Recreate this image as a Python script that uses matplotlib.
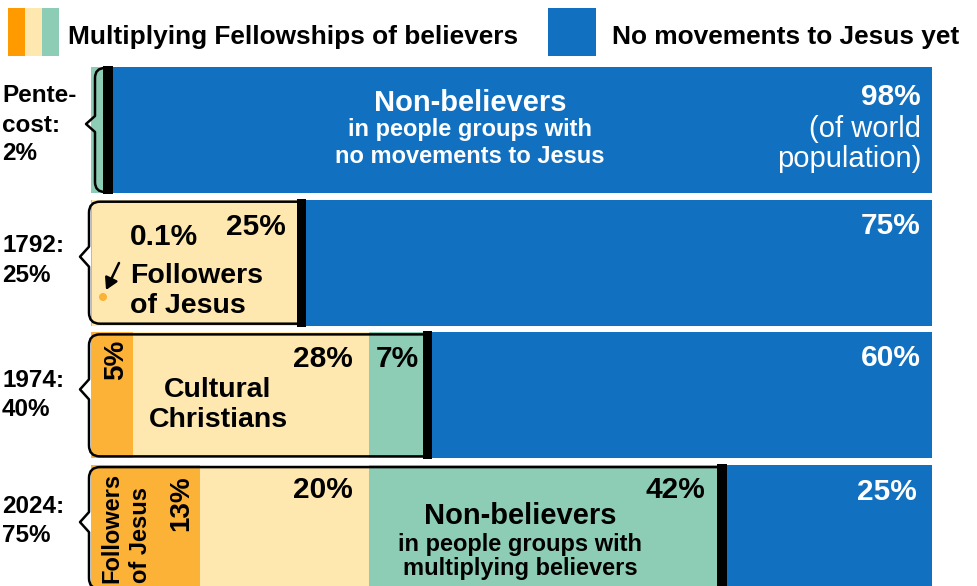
import matplotlib
matplotlib.use("Agg")
import matplotlib.pyplot as plt
from matplotlib.patches import Rectangle, PathPatch, Circle, FancyArrowPatch
from matplotlib.path import Path

# ---------------- data ----------------
rows = ["Pentecost", "1792", "1974", "2024"]
row_labels = [["Pente-", "cost:", "2%"], ["1792:", "25%"], ["1974:", "40%"], ["2024:", "75%"]]
followers = [0, 0.1, 5, 13]          # Followers of Jesus (%)
cultural = [0, 24.9, 28, 20]         # Cultural Christians (%)
multiplying = [2, 0, 7, 42]          # Non-believers in groups with multiplying believers (%)
no_movement = [98, 75, 60, 25]       # Non-believers in groups with no movements (%)
legend_labels = ["Multiplying Fellowships of believers", "No movements to Jesus yet"]

# ---------------- style ----------------
W, H = 977, 586
C_OR = "#FBB236"
C_OR_LEG = "#FF9A00"
C_YE = "#FEE8AF"
C_GR = "#8DCDB5"
C_BL = "#1170C0"
FONT = ["Liberation Sans", "DejaVu Sans"]
plt.rcParams["font.family"] = FONT

fig = plt.figure(figsize=(W / 100, H / 100), dpi=100)
ax = fig.add_axes([0, 0, 1, 1])
scale = 8.41          # px per percent
x0px = 91
pitch = 132.7
yc0 = 130
ax.set_xlim(-x0px / scale, (W - x0px) / scale)
ax.set_ylim((H - yc0) / pitch, -yc0 / pitch)
ax.axis("off")

ypos = list(range(len(rows)))
bh = 126 / pitch
left = [0] * len(rows)
for vals, col in [(followers, C_OR), (cultural, C_YE), (multiplying, C_GR), (no_movement, C_BL)]:
    ax.barh(ypos, vals, left=left, height=bh, color=col, linewidth=0)
    left = [l + v for l, v in zip(left, vals)]

ov = fig.add_axes([0, 0, 1, 1])
ov.set_xlim(0, W)
ov.set_ylim(H, 0)
ov.axis("off")
ov.patch.set_alpha(0)


def px(x, y):
    d = ax.transData.transform((x, y))
    return d[0], H - d[1]


# ---- legend ----
for i, c in enumerate([C_OR_LEG, C_YE, C_GR]):
    ov.add_patch(Rectangle((8 + 17 * i, 8), 17, 48, color=c, lw=0))
ov.add_patch(Rectangle((548, 8), 48, 48, color=C_BL, lw=0))
ov.text(68, 44, legend_labels[0], fontsize=18.9, fontweight="bold", va="baseline", ha="left")
ov.text(612, 44, legend_labels[1], fontsize=18.9, fontweight="bold", va="baseline", ha="left")

# ---- row labels ----
label_base = [[102, 132, 160], [252, 282], [387, 416], [513, 542]]
for lines, bases in zip(row_labels, label_base):
    for t, b in zip(lines, bases):
        ov.text(2, b, t, fontsize=17.5, fontweight="bold", va="baseline", ha="left")

# ---- bubbles and separators ----
for i in range(len(rows)):
    boundary = followers[i] + cultural[i] + multiplying[i]
    bx, _ = px(boundary, i)
    lx, top = px(0, i - bh / 2)
    _, bot = px(0, i + bh / 2)
    yc = (top + bot) / 2 - 6
    if i == 0:
        verts = [(105, top + 1), (95, top + 1), (95, top + 11), (95, yc - 8), (86, yc),
                 (95, yc + 8), (95, bot - 11), (95, bot - 1), (105, bot - 1)]
        codes = [Path.MOVETO, Path.CURVE3, Path.CURVE3, Path.LINETO, Path.LINETO,
                 Path.LINETO, Path.LINETO, Path.CURVE3, Path.CURVE3]
    else:
        xl = lx - 2
        yt = top + 2
        yb = bot - 2
        r = 11
        verts = [(bx, yt), (xl + r, yt), (xl, yt), (xl, yt + r), (xl, yc - 10), (xl - 9, yc),
                 (xl, yc + 10), (xl, yb - r), (xl, yb), (xl + r, yb), (bx, yb)]
        codes = [Path.MOVETO, Path.LINETO, Path.CURVE3, Path.CURVE3, Path.LINETO, Path.LINETO,
                 Path.LINETO, Path.LINETO, Path.CURVE3, Path.CURVE3, Path.LINETO]
    ov.add_patch(PathPatch(Path(verts, codes), fill=False, ec="black", lw=1.8,
                           capstyle="round", joinstyle="round"))
    ov.add_patch(Rectangle((bx - 4.5, top - 1), 9.5, bot - top + 2, color="black", lw=0))

B = dict(fontweight="bold", va="baseline")
# ---- Pentecost ----
ov.text(470, 111, "Non-believers", fontsize=21, color="white", ha="center", **B)
ov.text(470, 136, "in people groups with", fontsize=17, color="white", ha="center", **B)
ov.text(470, 163, "no movements to Jesus", fontsize=17, color="white", ha="center", **B)
ov.text(921, 105, f"{no_movement[0]}%", fontsize=21.5, color="white", ha="right", **B)
ov.text(921, 137, "(of world", fontsize=21, color="white", ha="right", va="baseline")
ov.text(921, 167, "population)", fontsize=21, color="white", ha="right", va="baseline")

# ---- 1792 ----
ov.text(130, 245, f"{followers[1]}%", fontsize=21.5, ha="left", **B)
ov.text(286, 235, f"{followers[1] + cultural[1]:.0f}%", fontsize=21.5, ha="right", **B)
ov.text(130, 283, "Followers", fontsize=20.5, ha="left", **B)
ov.text(130, 313, "of Jesus", fontsize=20.5, ha="left", **B)
ov.text(921, 234, f"{no_movement[1]}%", fontsize=21.5, color="white", ha="right", **B)
ov.add_patch(Circle((103, 297), 4, color=C_OR, lw=0))
ov.add_patch(FancyArrowPatch((119, 263), (106, 290), arrowstyle="-|>,head_length=7,head_width=4",
                             color="black", lw=1.8, shrinkA=0, shrinkB=0))

# ---- 1974 ----
ov.text(123, 340, f"{followers[2]}%", fontsize=20, rotation=90, rotation_mode="anchor",
        ha="right", **B)
ov.text(353, 367, f"{cultural[2]}%", fontsize=21.5, ha="right", **B)
ov.text(419, 367, f"{multiplying[2]}%", fontsize=21.5, ha="right", **B)
ov.text(218, 397, "Cultural", fontsize=20.5, ha="center", **B)
ov.text(218, 427, "Christians", fontsize=20.5, ha="center", **B)
ov.text(921, 366, f"{no_movement[2]}%", fontsize=21.5, color="white", ha="right", **B)

# ---- 2024 ----
ov.text(118, 583, "Followers", fontsize=17, rotation=90, rotation_mode="anchor", ha="left", **B)
ov.text(147, 583, "of Jesus", fontsize=17, rotation=90, rotation_mode="anchor", ha="left", **B)
ov.text(188, 475, f"{followers[3]}%", fontsize=20, rotation=90, rotation_mode="anchor",
        ha="right", **B)
ov.text(353, 498, f"{cultural[3]}%", fontsize=21.5, ha="right", **B)
ov.text(705, 498, f"{multiplying[3]}%", fontsize=21.5, ha="right", **B)
ov.text(520, 524, "Non-believers", fontsize=21, ha="center", **B)
ov.text(520, 551, "in people groups with", fontsize=17, ha="center", **B)
ov.text(520, 575, "multiplying believers", fontsize=17, ha="center", **B)
ov.text(917, 500, f"{no_movement[3]}%", fontsize=21.5, color="white", ha="right", **B)

fig.savefig("out.png", dpi=100)
